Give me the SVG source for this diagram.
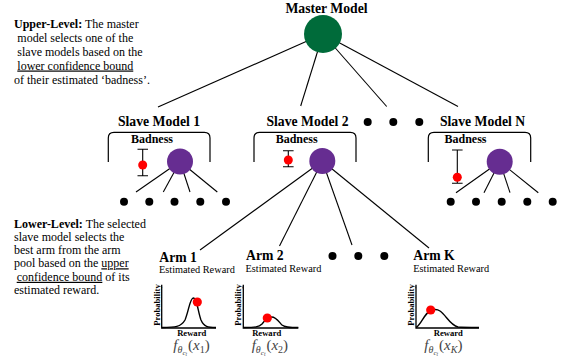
<svg xmlns="http://www.w3.org/2000/svg" width="569" height="362" viewBox="0 0 569 362">
<style>
text{font-family:"Liberation Serif","Times New Roman",serif;fill:#000}
.t{font-weight:bold;font-size:13.7px;text-anchor:middle}
.bd{font-weight:bold;font-size:12px;text-anchor:middle}
.body{font-size:12px}
.b{font-weight:bold}
.u{text-decoration:underline}
.arm{font-weight:bold;font-size:13.7px}
.est{font-size:10.3px}
.ax{font-weight:bold;font-size:8.6px;text-anchor:middle}
.fm{font-size:15px;fill:#444}
.i{font-style:italic}
.ln{stroke:#000;stroke-width:1.1;fill:none}
.br{stroke:#000;stroke-width:1.2;fill:none}
.eb{stroke:#000;stroke-width:1.1;fill:none}
.dot{fill:#000}
.red{fill:#ff0000}
.pur{fill:#662d91}
.axis{stroke:#000;stroke-width:1.3;fill:none}
.crv{stroke:#000;stroke-width:1.4;fill:none}
</style>

<g id="connectors">
  <line class="ln" x1="323" y1="34" x2="158" y2="107"/>
  <line class="ln" x1="323" y1="34" x2="300.7" y2="106"/>
  <line class="ln" x1="323" y1="34" x2="386.7" y2="106.5"/>
  <line class="ln" x1="323" y1="34" x2="458" y2="106.5"/>
  <line class="ln" x1="180" y1="161.5" x2="136" y2="192"/>
  <line class="ln" x1="180" y1="161.5" x2="163.3" y2="192"/>
  <line class="ln" x1="180" y1="161.5" x2="190" y2="192"/>
  <line class="ln" x1="180" y1="161.5" x2="217.3" y2="192"/>
  <line class="ln" x1="322.3" y1="161" x2="200" y2="250"/>
  <line class="ln" x1="322.3" y1="161" x2="279.5" y2="246"/>
  <line class="ln" x1="322.3" y1="161" x2="352" y2="245"/>
  <line class="ln" x1="322.3" y1="161" x2="429" y2="248"/>
  <line class="ln" x1="499.7" y1="161.7" x2="456" y2="192.7"/>
  <line class="ln" x1="499.7" y1="161.7" x2="484" y2="192.7"/>
  <line class="ln" x1="499.7" y1="161.7" x2="510" y2="192.7"/>
  <line class="ln" x1="499.7" y1="161.7" x2="538.3" y2="192.7"/>
</g>

<g id="upper-level-text">
  <text class="body" x="14" y="27.5"><tspan class="b">Upper-Level:</tspan> The master</text>
  <text class="body" x="17.3" y="41.5">model selects one of the</text>
  <text class="body" x="17.3" y="55.5">slave models based on the</text>
  <text class="body" x="17.3" y="69.5"><tspan class="u">lower confidence bound</tspan></text>
  <text class="body" x="14" y="83.5">of their estimated ‘badness’.</text>
</g>

<g id="lower-level-text">
  <text class="body" x="14" y="228.3"><tspan class="b">Lower-Level:</tspan> The selected</text>
  <text class="body" x="14" y="241.3">slave model selects the</text>
  <text class="body" x="14" y="254.3">best arm from the arm</text>
  <text class="body" x="14" y="267.3">pool based on the <tspan class="u">upper</tspan></text>
  <text class="body" x="16.7" y="280.8"><tspan class="u">confidence bound</tspan> of its</text>
  <text class="body" x="14" y="294">estimated reward.</text>
</g>

<g id="master">
  <text class="t" x="326.5" y="13">Master Model</text>
  <circle cx="323" cy="34" r="19" fill="#006b3a"/>
</g>

<g id="slave1">
  <text class="t" x="159" y="126">Slave Model 1</text>
  <path class="br" d="M108.3,162 V138 Q108.3,132.3 114,132.3 H204.3 Q210,132.3 210,138 V162"/>
  <text class="bd" x="152" y="142.7">Badness</text>
  <path class="eb" d="M137.5,149.3 H148 M142.7,149.3 V175.7 M137.5,175.7 H148"/>
  <circle class="red" cx="142.7" cy="165" r="4.5"/>
  <circle class="pur" cx="180" cy="161.5" r="13"/>
  <circle class="dot" cx="124" cy="201.7" r="4"/>
  <circle class="dot" cx="149.3" cy="201.7" r="4"/>
  <circle class="dot" cx="174.5" cy="201.7" r="4"/>
  <circle class="dot" cx="200.3" cy="201.7" r="4"/>
  <circle class="dot" cx="226" cy="201.7" r="4"/>
</g>

<g id="slave2">
  <text class="t" x="307.5" y="126">Slave Model 2</text>
  <path class="br" d="M254,162 V138 Q254,132.3 259.7,132.3 H350.3 Q356,132.3 356,138 V162"/>
  <text class="bd" x="296.7" y="142.7">Badness</text>
  <path class="eb" d="M283,150.7 H293.6 M288.3,150.7 V166.7 M283,166.7 H293.6"/>
  <circle class="red" cx="288.3" cy="160" r="4.5"/>
  <circle class="pur" cx="322.3" cy="161" r="13"/>
</g>

<g id="slave-ellipsis">
  <circle class="dot" cx="367.7" cy="122" r="4"/>
  <circle class="dot" cx="393.3" cy="122" r="4"/>
  <circle class="dot" cx="419.3" cy="122" r="4"/>
</g>

<g id="slaveN">
  <text class="t" x="482.5" y="126">Slave Model N</text>
  <path class="br" d="M428.3,162 V138 Q428.3,132.3 434,132.3 H525 Q530.7,132.3 530.7,138 V162"/>
  <text class="bd" x="465.5" y="143">Badness</text>
  <path class="eb" d="M452,150 H462.6 M457.3,150 V183.3 M452,183.3 H462.6"/>
  <circle class="red" cx="457.3" cy="177.3" r="4.5"/>
  <circle class="pur" cx="499.7" cy="161.7" r="13"/>
  <circle class="dot" cx="450.7" cy="201.7" r="4"/>
  <circle class="dot" cx="476" cy="201.7" r="4"/>
  <circle class="dot" cx="501.7" cy="201.7" r="4"/>
  <circle class="dot" cx="527.3" cy="201.7" r="4"/>
  <circle class="dot" cx="552.7" cy="201.7" r="4"/>
</g>

<g id="arm1">
  <text class="arm" x="159.3" y="261.5">Arm 1</text>
  <text class="est" x="159" y="273.3">Estimated Reward</text>
  <path class="axis" d="M161.7,284.7 V328 H216"/>
  <path class="crv" d="M162,327.5 C175,327.5 181,327 185,320 C189,310 190,298 193.3,298 C197,298 198,312 201,320 C204,327 208,327.5 216,327.5"/>
  <circle class="red" cx="197.3" cy="302" r="4.6"/>
  <text class="ax" transform="translate(159.5,305) rotate(-90)">Probability</text>
  <text class="ax" x="191.7" y="336.3">Reward</text>
  <text class="fm" x="173.3" y="350"><tspan class="i">f</tspan><tspan class="i" font-size="10" dy="3">θ</tspan><tspan class="i" font-size="7" dy="1.8">c</tspan><tspan class="i" font-size="5.5" dy="1.2">t</tspan><tspan dx="1" dy="-6">(</tspan><tspan class="i">x</tspan><tspan font-size="10" dy="3">1</tspan><tspan dy="-3">)</tspan></text>
</g>

<g id="arm2">
  <text class="arm" x="246" y="259.5">Arm 2</text>
  <text class="est" x="245.5" y="271.7">Estimated Reward</text>
  <path class="axis" d="M243.3,284.7 V328 H298.3"/>
  <path class="crv" d="M243.5,327.5 C255,327.5 259,327 262,324 C266,319 268,317 271.7,317 C276,317 279,322 282,325 C285,327.5 290,327.5 298.3,327.5"/>
  <circle class="red" cx="267.3" cy="318" r="4.6"/>
  <text class="ax" transform="translate(241.2,305) rotate(-90)">Probability</text>
  <text class="ax" x="266.7" y="336.3">Reward</text>
  <text class="fm" x="251.7" y="350"><tspan class="i">f</tspan><tspan class="i" font-size="10" dy="3">θ</tspan><tspan class="i" font-size="7" dy="1.8">c</tspan><tspan class="i" font-size="5.5" dy="1.2">t</tspan><tspan dx="1" dy="-6">(</tspan><tspan class="i">x</tspan><tspan font-size="10" dy="3">2</tspan><tspan dy="-3">)</tspan></text>
</g>

<g id="arm-ellipsis">
  <circle class="dot" cx="332.5" cy="256" r="4"/>
  <circle class="dot" cx="358.3" cy="256" r="4"/>
  <circle class="dot" cx="384.3" cy="256" r="4"/>
</g>

<g id="armK">
  <text class="arm" x="413.3" y="259.5">Arm K</text>
  <text class="est" x="413.3" y="271.7">Estimated Reward</text>
  <path class="axis" d="M416,284.7 V328 H479"/>
  <path class="crv" d="M416,327.5 C421,325 424,314 430,311 C434,309 437,309 440,311 C446,315 450,325 458,327 C462,327.5 470,327.5 479,327.5"/>
  <circle class="red" cx="430.7" cy="310" r="4.6"/>
  <text class="ax" transform="translate(413.5,305) rotate(-90)">Probability</text>
  <text class="ax" x="448.3" y="336.3">Reward</text>
  <text class="fm" x="424.3" y="350"><tspan class="i">f</tspan><tspan class="i" font-size="10" dy="3">θ</tspan><tspan class="i" font-size="7" dy="1.8">c</tspan><tspan class="i" font-size="5.5" dy="1.2">t</tspan><tspan dx="1" dy="-6">(</tspan><tspan class="i">x</tspan><tspan class="i" font-size="10" dy="3">K</tspan><tspan dy="-3">)</tspan></text>
</g>
</svg>
